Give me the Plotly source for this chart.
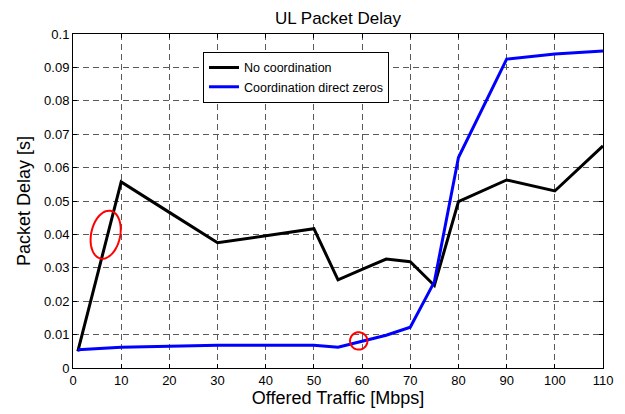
import numpy as np
import plotly.graph_objects as go

# Data
traffic = [1, 10, 20, 30, 50, 55, 60, 65, 70, 75, 80, 90, 100, 110]
no_coord = [0.0050, 0.0557, 0.0466, 0.0375, 0.0417, 0.0264, 0.0295, 0.0326, 0.0318, 0.0247, 0.0498, 0.0563, 0.0530, 0.0665]
coord_zeros = [0.0055, 0.0062, 0.0065, 0.0068, 0.0068, 0.0062, 0.0080, 0.0098, 0.0122, 0.0258, 0.0630, 0.0925, 0.0940, 0.0949]
x_ticks = [0, 10, 20, 30, 40, 50, 60, 70, 80, 90, 100, 110]
y_ticks = [0, 0.01, 0.02, 0.03, 0.04, 0.05, 0.06, 0.07, 0.08, 0.09, 0.1]
y_tick_text = ["0", "0.01", "0.02", "0.03", "0.04", "0.05", "0.06", "0.07", "0.08", "0.09", "0.1"]

W, H = 625, 414
ML, MR, MT, MB = 73, 22, 34, 44
pw, ph = W - ML - MR, H - MT - MB
sx = pw / 110.0
sy = ph / 0.1

fig = go.Figure()
fig.add_trace(go.Scatter(x=traffic, y=no_coord, mode="lines", name="No coordination",
                         line=dict(color="black", width=3)))
fig.add_trace(go.Scatter(x=traffic, y=coord_zeros, mode="lines", name="Coordination direct zeros",
                         line=dict(color="#0000ff", width=3)))


def ellipse_path(cx, cy, ax_px, ay_px, ang_deg):
    t = np.linspace(0, 2 * np.pi, 60)
    a = np.deg2rad(ang_deg)
    dx = ax_px * np.cos(t)
    dy = ay_px * np.sin(t)
    rx = dx * np.cos(a) - dy * np.sin(a)
    ry = dx * np.sin(a) + dy * np.cos(a)
    xs = cx + rx / sx
    ys = cy + ry / sy
    p = "M " + " L ".join(f"{x:.4f},{y:.5f}" for x, y in zip(xs, ys)) + " Z"
    return p


fig.add_shape(type="path", path=ellipse_path(6.78, 0.0399, 14.5, 24.5, -12),
              line=dict(color="red", width=2), xref="x", yref="y")
fig.add_shape(type="path", path=ellipse_path(59.3, 0.0081, 8.7, 8.7, 0),
              line=dict(color="red", width=2), xref="x", yref="y")

fnt = "Liberation Sans, Arial, Helvetica, sans-serif"
axis_common = dict(showline=True, linecolor="black", linewidth=1, mirror="ticks",
                   ticks="inside", ticklen=4, tickcolor="black",
                   showgrid=True, gridcolor="#5a5a5a", griddash="6px,4px", gridwidth=1,
                   zeroline=False, tickfont=dict(size=13, color="black", family=fnt))

fig.update_xaxes(range=[0, 110], tickvals=x_ticks, **axis_common,
                 title=dict(text="Offered Traffic [Mbps]", font=dict(size=18, color="black", family=fnt), standoff=2))
fig.update_yaxes(range=[0, 0.1], tickvals=y_ticks, ticktext=y_tick_text, **axis_common,
                 title=dict(text="Packet Delay [s]", font=dict(size=18, color="black", family=fnt), standoff=8))

fig.update_layout(
    width=W, height=H,
    margin=dict(l=ML, r=MR, t=MT, b=MB),
    paper_bgcolor="white", plot_bgcolor="white",
    font=dict(family=fnt, color="black"),
    title=dict(text="UL Packet Delay", x=(ML + pw / 2) / W, xanchor="center",
               y=1 - 18 / H, yanchor="middle", font=dict(size=17, color="black", family=fnt)),
    legend=dict(x=(203 - ML) / pw, y=(H - MB - 52) / ph, xanchor="left", yanchor="top",
                bgcolor="white", bordercolor="black", borderwidth=1,
                font=dict(size=12.5, color="black", family=fnt), itemwidth=30,
                tracegroupgap=0),
    showlegend=True,
)

fig.write_html("out.html")
